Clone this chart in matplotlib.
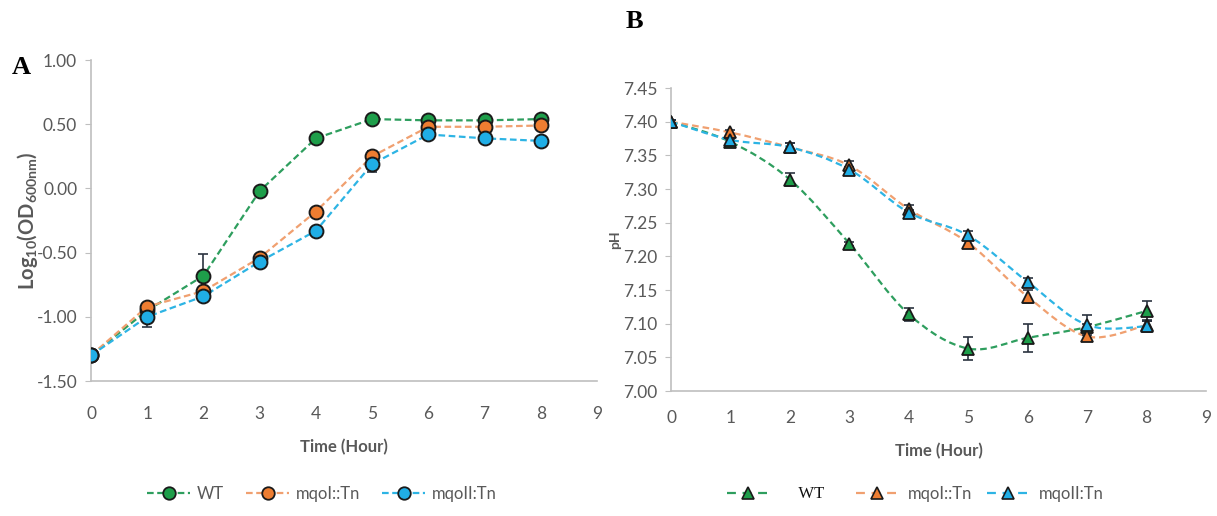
import matplotlib
matplotlib.use('Agg')
import matplotlib.pyplot as plt
from matplotlib.path import Path
from matplotlib.patches import PathPatch
from matplotlib.lines import Line2D
import numpy as np

plt.rcParams['font.family'] = ['Lato', 'DejaVu Sans']
plt.rcParams['mathtext.fontset'] = 'custom'
plt.rcParams['mathtext.bf'] = 'Lato:bold'
plt.rcParams['mathtext.rm'] = 'Lato'

hours = [0, 1, 2, 3, 4, 5, 6, 7, 8]
strains = ['WT', 'mqoI::Tn', 'mqoII:Tn']

# growth, log10(OD600)
od_wt = [-1.30, -0.95, -0.68, -0.02, 0.39, 0.54, 0.53, 0.53, 0.54]
od_wt_err = [0.01, 0.02, 0.17, 0.02, 0.02, 0.02, 0.02, 0.02, 0.02]
od_mqo1 = [-1.30, -0.92, -0.80, -0.54, -0.18, 0.25, 0.48, 0.48, 0.49]
od_mqo1_err = [0.01, 0.02, 0.02, 0.02, 0.03, 0.04, 0.02, 0.02, 0.02]
od_mqo2 = [-1.30, -1.00, -0.84, -0.57, -0.33, 0.19, 0.42, 0.39, 0.37]
od_mqo2_err = [0.01, 0.08, 0.02, 0.02, 0.02, 0.06, 0.03, 0.02, 0.02]

# medium pH
ph_wt = [7.400, 7.370, 7.314, 7.219, 7.114, 7.063, 7.079, 7.095, 7.119]
ph_wt_err = [0.002, 0.004, 0.010, 0.003, 0.010, 0.017, 0.021, 0.004, 0.014]
ph_mqo1 = [7.400, 7.384, 7.362, 7.335, 7.270, 7.220, 7.140, 7.081, 7.098]
ph_mqo1_err = [0.002, 0.004, 0.006, 0.006, 0.006, 0.006, 0.010, 0.005, 0.006]
ph_mqo2 = [7.400, 7.373, 7.362, 7.329, 7.265, 7.231, 7.162, 7.098, 7.096]
ph_mqo2_err = [0.002, 0.004, 0.006, 0.004, 0.004, 0.006, 0.006, 0.015, 0.008]

marker_colors = ['#1E9E4A', '#EE7D31', '#20AEE6']
line_colors = ['#2E9E5E', '#F0A070', '#2DB4E4']
grey = '#595959'
spine_grey = '#BFBFBF'
err_color = '#2B3340'


def style_axes(ax, xpad):
    for s in ['top', 'right']:
        ax.spines[s].set_visible(False)
    for s in ['left', 'bottom']:
        ax.spines[s].set_color(spine_grey)
        ax.spines[s].set_linewidth(1.2)
    ax.tick_params(axis='y', direction='out', length=4, color=spine_grey, labelcolor=grey, labelsize=12.5, pad=6)
    ax.tick_params(axis='x', length=0, labelcolor=grey, labelsize=12.5, pad=xpad)
    ax.set_xlim(0, 9)
    ax.set_xticks(range(10))
    ax.set_xlabel('Time (Hour)', fontsize=12, fontweight='bold', color=grey, labelpad=12)


def smooth_path(x, y):
    # Excel-style smoothed line: cubic bezier through every point
    x = np.asarray(x, float)
    y = np.asarray(y, float)
    n = len(x)
    verts = [(x[0], y[0])]
    codes = [Path.MOVETO]
    for i in range(n - 1):
        i0 = max(i - 1, 0)
        i3 = min(i + 2, n - 1)
        c1 = (x[i] + (x[i + 1] - x[i0]) / 6, y[i] + (y[i + 1] - y[i0]) / 6)
        c2 = (x[i + 1] - (x[i3] - x[i]) / 6, y[i + 1] - (y[i3] - y[i]) / 6)
        verts += [c1, c2, (x[i + 1], y[i + 1])]
        codes += [Path.CURVE4] * 3
    return Path(verts, codes)


fig = plt.figure(figsize=(12.17, 5.16), dpi=100)

# panel A: growth curves
axA = fig.add_axes([0.0748, 0.2616, 0.4158, 0.6221])
style_axes(axA, 18)
od_series = [(od_wt, od_wt_err), (od_mqo1, od_mqo1_err), (od_mqo2, od_mqo2_err)]
for i, (vals, errs) in enumerate(od_series):
    axA.errorbar(hours, vals, yerr=errs, fmt='none', ecolor=err_color, elinewidth=1.2, capsize=3.5, capthick=1.2, zorder=3)
    axA.plot(hours, vals, linestyle=(0, (3, 1.6)), linewidth=1.6, color=line_colors[i], zorder=2)
    axA.plot(hours, vals, linestyle='none', marker='o', markersize=10, markerfacecolor=marker_colors[i],
             markeredgecolor='#1A1A1A', markeredgewidth=1.4, zorder=4)
axA.set_ylim(-1.5, 1.0)
axA.set_yticks(np.arange(-1.5, 1.01, 0.5))
axA.set_yticklabels(['%.2f' % v for v in np.arange(-1.5, 1.01, 0.5)])
axA.set_ylabel(r'$\mathbf{Log_{10}(OD_{600nm})}$', fontsize=14.5, color=grey)
axA.yaxis.set_label_coords(-0.10, 0.5)

handlesA = [Line2D([], [], linestyle=(0, (3, 1.6)), linewidth=1.6, color=line_colors[i], marker='o', markersize=9,
                   markerfacecolor=marker_colors[i], markeredgecolor='#1A1A1A', markeredgewidth=1.3)
            for i in range(3)]
legA = fig.legend(handlesA, strains, loc='center', bbox_to_anchor=(322 / 1217, 1 - 494 / 516), ncol=3,
                  frameon=False, fontsize=12, handlelength=2.6, columnspacing=1.3, handletextpad=0.4)
for t in legA.get_texts():
    t.set_color(grey)

# panel B: pH of the medium
axB = fig.add_axes([0.5514, 0.2422, 0.4396, 0.5872])
style_axes(axB, 14)
ph_series = [(ph_wt, ph_wt_err), (ph_mqo1, ph_mqo1_err), (ph_mqo2, ph_mqo2_err)]
for i, (vals, errs) in enumerate(ph_series):
    patch = PathPatch(smooth_path(hours, vals), facecolor='none', edgecolor=line_colors[i], linewidth=1.6,
                      linestyle=(0, (3, 1.8)), zorder=2)
    axB.add_patch(patch)
    axB.errorbar(hours, vals, yerr=errs, fmt='none', ecolor=err_color, elinewidth=1.2, capsize=3.5, capthick=1.2, zorder=3)
    axB.plot(hours, vals, linestyle='none', marker='^', markersize=9, markerfacecolor=marker_colors[i],
             markeredgecolor='#1A1A1A', markeredgewidth=1.3, zorder=4)
axB.set_ylim(7.0, 7.45)
axB.set_yticks(np.arange(7.0, 7.451, 0.05))
axB.set_yticklabels(['%.2f' % v for v in np.arange(7.0, 7.451, 0.05)])
axB.set_ylabel('pH', fontsize=10, fontweight='bold', color=grey, labelpad=1)

handlesB = [Line2D([], [], linestyle=(0, (4, 3)), linewidth=1.6, color=line_colors[i], marker='^', markersize=8,
                   markerfacecolor=marker_colors[i], markeredgecolor='#1A1A1A', markeredgewidth=1.2)
            for i in range(3)]
legB = fig.legend(handlesB, strains, loc='center', bbox_to_anchor=(915 / 1217, 1 - 494 / 516), ncol=3,
                  frameon=False, fontsize=12, handlelength=2.6, columnspacing=0.9, handletextpad=0.5)
for t in legB.get_texts():
    t.set_color(grey)
wt_label = legB.get_texts()[0]
wt_label.set_fontfamily('Liberation Serif')
wt_label.set_color('#111111')
wt_label.set_text('     WT    ')

fig.text(12 / 1217, 1 - 68 / 516, 'A', fontsize=19, fontweight='bold', family='Liberation Serif', va='center')
fig.text(626 / 1217, 1 - 22 / 516, 'B', fontsize=19, fontweight='bold', family='Liberation Serif', va='center')

fig.savefig('out.png', dpi=100)
